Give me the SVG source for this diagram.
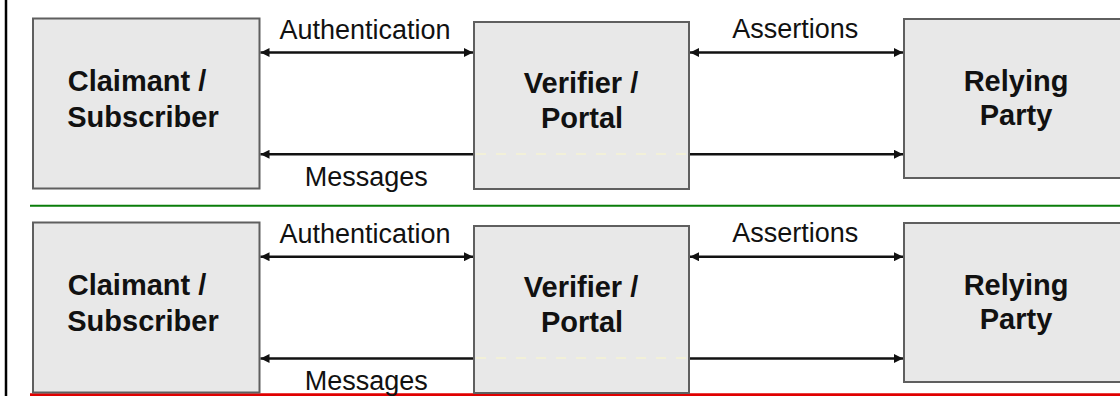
<svg xmlns="http://www.w3.org/2000/svg" width="1120" height="396" viewBox="0 0 1120 396">
  <style>
    .box { fill: #e8e8e8; stroke: #5f5f5f; stroke-width: 2; }
    .nt { font-family: "Liberation Sans", Arial, sans-serif; font-weight: bold; font-size: 29px; fill: #111; text-anchor: middle; }
    .lt { font-family: "Liberation Sans", Arial, sans-serif; font-size: 27px; fill: #111; text-anchor: middle; }
    .conn { stroke: #111; stroke-width: 2.5; fill: none; }
    .ghost { stroke: #f2f0d8; stroke-width: 2; stroke-dasharray: 10 10; fill: none; }
  </style>
  <defs>
    <marker id="ah" viewBox="0 0 10 10" refX="10" refY="5" markerWidth="9" markerHeight="9" markerUnits="userSpaceOnUse" orient="auto-start-reverse">
      <path d="M0,0 L10,5 L0,10 Z" fill="#111"/>
    </marker>
  </defs>
  <rect width="1120" height="396" fill="#ffffff"/>
  <g id="frame">
    <line x1="6" y1="0" x2="6" y2="396" stroke="#000" stroke-width="2.5"/>
    <line x1="30" y1="205.7" x2="1120" y2="205.7" stroke="#0a7d0a" stroke-width="2"/>
    <line x1="30" y1="394.7" x2="1120" y2="394.7" stroke="#e00000" stroke-width="3"/>
  </g>

  <!-- Panel 1 -->
  <g id="claimant1">
    <rect class="box" x="33" y="18.5" width="226.5" height="170"/>
    <text class="nt" x="137" y="91">Claimant /</text>
    <text class="nt" x="143" y="126.5">Subscriber</text>
  </g>
  <g id="verifier1">
    <rect class="box" x="474" y="22" width="215" height="167"/>
    <text class="nt" x="581" y="92.7">Verifier /</text>
    <text class="nt" x="582" y="128.3">Portal</text>
  </g>
  <g id="relying1">
    <rect class="box" x="904" y="19" width="227" height="159"/>
    <text class="nt" x="1016" y="91">Relying</text>
    <text class="nt" x="1016" y="125.3">Party</text>
  </g>

  <!-- Panel 2 -->
  <g id="claimant2">
    <rect class="box" x="33" y="222.5" width="226.5" height="170"/>
    <text class="nt" x="137" y="295">Claimant /</text>
    <text class="nt" x="143" y="330.5">Subscriber</text>
  </g>
  <g id="verifier2">
    <rect class="box" x="474" y="226" width="215" height="167"/>
    <text class="nt" x="581" y="296.7">Verifier /</text>
    <text class="nt" x="582" y="332.3">Portal</text>
  </g>
  <g id="relying2">
    <rect class="box" x="904" y="223" width="227" height="159"/>
    <text class="nt" x="1016" y="295">Relying</text>
    <text class="nt" x="1016" y="329.3">Party</text>
  </g>

  <g id="connectors">
    <line class="ghost" x1="476" y1="154" x2="688" y2="154"/>
    <line class="ghost" x1="476" y1="358" x2="688" y2="358"/>
    <!-- panel 1 -->
    <line class="conn" x1="260.5" y1="52.5" x2="473" y2="52.5" marker-start="url(#ah)" marker-end="url(#ah)"/>
    <line class="conn" x1="473" y1="154.3" x2="260.5" y2="154.3" marker-end="url(#ah)"/>
    <line class="conn" x1="690" y1="52.5" x2="903" y2="52.5" marker-start="url(#ah)" marker-end="url(#ah)"/>
    <line class="conn" x1="690" y1="154.3" x2="903" y2="154.3" marker-end="url(#ah)"/>
    <!-- panel 2 -->
    <line class="conn" x1="260.5" y1="256.7" x2="473" y2="256.7" marker-start="url(#ah)" marker-end="url(#ah)"/>
    <line class="conn" x1="473" y1="358.5" x2="260.5" y2="358.5" marker-end="url(#ah)"/>
    <line class="conn" x1="690" y1="256.7" x2="903" y2="256.7" marker-start="url(#ah)" marker-end="url(#ah)"/>
    <line class="conn" x1="690" y1="358.5" x2="903" y2="358.5" marker-end="url(#ah)"/>
    <!-- labels -->
    <text class="lt" x="365" y="39.3">Authentication</text>
    <text class="lt" x="366.3" y="185.7">Messages</text>
    <text class="lt" x="795.3" y="38.3">Assertions</text>
    <text class="lt" x="365" y="243.3">Authentication</text>
    <text class="lt" x="366.3" y="389.7">Messages</text>
    <text class="lt" x="795.3" y="242.3">Assertions</text>
  </g>
</svg>
